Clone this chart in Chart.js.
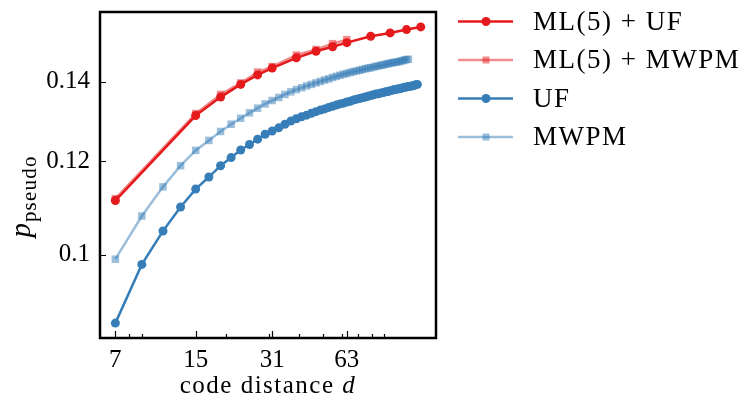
<!DOCTYPE html>
<html>
<head>
<meta charset="utf-8">
<script src="https://cdn.jsdelivr.net/npm/chart.js@4.4.1/dist/chart.umd.min.js"></script>
<style>
  html, body { margin: 0; padding: 0; background: #fff; }
  #wrap { width: 752px; height: 403px; }
</style>
</head>
<body>
<div id="wrap"><canvas id="pseudo-chart"></canvas></div>
<script>
// code distances and pseudo-thresholds
const dMlUf = [7, 15, 19, 23, 27, 31, 39, 47, 55, 63, 79, 95, 111, 127];
const pMlUf = [0.1111, 0.1311, 0.1359, 0.1393, 0.1419, 0.1438, 0.1467, 0.1486, 0.1499, 0.1511, 0.1530, 0.1540, 0.1550, 0.1558];

const dMlMwpm = [7, 15, 19, 23, 27, 31, 39, 47, 55, 63];
const pMlMwpm = [0.1115, 0.1316, 0.1366, 0.1397, 0.1427, 0.1442, 0.1475, 0.1491, 0.1508, 0.1520];

const dUf = [7, 9, 11, 13, 15, 17, 19, 21, 23, 25, 27, 29, 31, 33, 35, 37, 39, 41, 43, 45,
  47, 49, 51, 53, 55, 57, 59, 61, 63, 65, 67, 69, 71, 73, 75, 77, 79, 81, 83, 85,
  87, 89, 91, 93, 95, 97, 99, 101, 103, 105, 107, 109, 111, 113, 115, 117, 119, 121, 123];
const pUf = [0.0875, 0.0981, 0.1047, 0.1097, 0.1136, 0.1163, 0.1189, 0.1208, 0.1226, 0.1239,
  0.1252, 0.1264, 0.1272, 0.1280, 0.1289, 0.1297, 0.1303, 0.1308, 0.1312, 0.1317,
  0.1321, 0.1325, 0.1328, 0.1332, 0.1335, 0.1338, 0.1341, 0.1343, 0.1346, 0.1348,
  0.1351, 0.1353, 0.1355, 0.1357, 0.1359, 0.1361, 0.1363, 0.1365, 0.1367, 0.1368,
  0.1370, 0.1371, 0.1373, 0.1374, 0.1376, 0.1377, 0.1379, 0.1380, 0.1381, 0.1382,
  0.1384, 0.1385, 0.1386, 0.1387, 0.1388, 0.1389, 0.1390, 0.1392, 0.1393];

const dMwpm = [7, 9, 11, 13, 15, 17, 19, 21, 23, 25, 27, 29, 31, 33, 35, 37, 39, 41, 43, 45,
  47, 49, 51, 53, 55, 57, 59, 61, 63, 65, 67, 69, 71, 73, 75, 77, 79, 81, 83, 85,
  87, 89, 91, 93, 95, 97, 99, 101, 103, 105, 107, 109, 111, 113];
const pMwpm = [0.0991, 0.1078, 0.1141, 0.1189, 0.1225, 0.1249, 0.1271, 0.1289, 0.1304, 0.1318,
  0.1330, 0.1341, 0.1350, 0.1358, 0.1366, 0.1373, 0.1379, 0.1384, 0.1389, 0.1393,
  0.1397, 0.1401, 0.1405, 0.1408, 0.1412, 0.1415, 0.1418, 0.1421, 0.1423, 0.1426,
  0.1428, 0.1430, 0.1432, 0.1434, 0.1436, 0.1438, 0.1439, 0.1441, 0.1443, 0.1444,
  0.1446, 0.1447, 0.1449, 0.1450, 0.1452, 0.1453, 0.1454, 0.1455, 0.1456, 0.1458,
  0.1459, 0.1461, 0.1462, 0.1463];

const xTicks = [7, 15, 31, 63];
const xMinorTicks = [8, 9, 20, 30, 40, 50, 60, 70, 80, 90];
const yTicks = [0.1, 0.12, 0.14];
const seriesNames = ["ML(5) + UF", "ML(5) + MWPM", "UF", "MWPM"];

const RED = "#e41a1c";
const RED_LIGHT = "rgba(228, 26, 28, 0.5)";
const BLUE = "#377eb8";
const BLUE_LIGHT = "rgba(55, 126, 184, 0.5)";
const FONT = "'Liberation Serif', 'DejaVu Serif', serif";

Chart.defaults.font.family = FONT;
Chart.defaults.color = "#000";

const toPoints = (xs, ys) => xs.map((x, i) => ({ x: x, y: ys[i] }));

// box + inward ticks, matplotlib style
const frameAndTicks = {
  id: "frameAndTicks",
  afterDatasetsDraw(chart) {
    const { ctx, chartArea: a } = chart;
    const xs = chart.scales.x;
    const ys = chart.scales.y;
    ctx.save();
    ctx.strokeStyle = "#000";
    ctx.lineWidth = 1.2;
    ctx.beginPath();
    xTicks.forEach((v) => {
      const px = Math.round(xs.getPixelForValue(v)) + 0.5;
      ctx.moveTo(px, a.bottom);
      ctx.lineTo(px, a.bottom - 7);
    });
    xMinorTicks.forEach((v) => {
      const px = Math.round(xs.getPixelForValue(v)) + 0.5;
      ctx.moveTo(px, a.bottom);
      ctx.lineTo(px, a.bottom - 4);
    });
    yTicks.forEach((v) => {
      const py = Math.round(ys.getPixelForValue(v)) + 0.5;
      ctx.moveTo(a.left, py);
      ctx.lineTo(a.left + 6, py);
    });
    ctx.stroke();
    ctx.lineWidth = 2.5;
    ctx.strokeRect(a.left, a.top, a.right - a.left, a.bottom - a.top);
    ctx.restore();
  },
};

// axis titles with italic math parts
const axisTitles = {
  id: "axisTitles",
  afterDraw(chart) {
    const { ctx, chartArea: a } = chart;
    ctx.save();
    ctx.fillStyle = "#000";
    ctx.textBaseline = "alphabetic";
    ctx.letterSpacing = "1.5px";
    // x title: code distance d
    const t1 = "code distance ";
    ctx.font = "italic 25px " + FONT;
    const wd = ctx.measureText("d").width;
    ctx.font = "25px " + FONT;
    const w1 = ctx.measureText(t1).width;
    const cx = (a.left + a.right) / 2;
    const x0 = cx - (w1 + wd) / 2;
    ctx.fillText(t1, x0, 393);
    ctx.font = "italic 25px " + FONT;
    ctx.fillText("d", x0 + w1, 393);

    // y title: p_pseudo
    ctx.translate(30, 197);
    ctx.rotate(-Math.PI / 2);
    ctx.letterSpacing = "0px";
    ctx.font = "italic 29px " + FONT;
    const wp = ctx.measureText("p").width;
    ctx.letterSpacing = "1.2px";
    ctx.font = "21px " + FONT;
    const ws = ctx.measureText("pseudo").width;
    const sx = -(wp + ws) / 2;
    ctx.letterSpacing = "0px";
    ctx.font = "italic 29px " + FONT;
    ctx.fillText("p", sx, 0);
    ctx.letterSpacing = "1.2px";
    ctx.font = "21px " + FONT;
    ctx.fillText("pseudo", sx + wp + 1, 6);
    ctx.restore();
  },
};

// legend outside the axes, on the right
const sideLegend = {
  id: "sideLegend",
  afterDraw(chart) {
    const { ctx } = chart;
    ctx.save();
    chart.data.datasets.forEach((ds, i) => {
      const y = 21.5 + i * 38.5;
      ctx.strokeStyle = ds.borderColor;
      ctx.lineWidth = 2.5;
      ctx.beginPath();
      ctx.moveTo(458, y);
      ctx.lineTo(513, y);
      ctx.stroke();
      ctx.fillStyle = ds.backgroundColor;
      if (ds.pointStyle === "rect") {
        ctx.fillRect(486 - 3.5, y - 3.5, 7, 7);
      } else {
        ctx.beginPath();
        ctx.arc(486, y, 4.5, 0, Math.PI * 2);
        ctx.fill();
      }
      ctx.fillStyle = "#000";
      ctx.font = "27px " + FONT;
      ctx.letterSpacing = "1.5px";
      ctx.textBaseline = "middle";
      ctx.fillText(ds.label, 533, y + 1);
    });
    ctx.restore();
  },
};

const ctxPseudo = document.querySelector("#pseudo-chart").getContext("2d");

const pseudoChart = new Chart(ctxPseudo, {
  type: "line",
  data: {
    datasets: [
      {
        label: seriesNames[0],
        data: toPoints(dMlUf, pMlUf),
        borderColor: RED,
        backgroundColor: RED,
        borderWidth: 2.5,
        pointStyle: "circle",
        pointRadius: 4.5,
        pointBorderWidth: 0,
      },
      {
        label: seriesNames[1],
        data: toPoints(dMlMwpm, pMlMwpm),
        borderColor: RED_LIGHT,
        backgroundColor: RED_LIGHT,
        borderWidth: 2.5,
        pointStyle: "rect",
        pointRadius: 5.3,
        pointBorderWidth: 0,
      },
      {
        label: seriesNames[2],
        data: toPoints(dUf, pUf),
        borderColor: BLUE,
        backgroundColor: BLUE,
        borderWidth: 2.5,
        pointStyle: "circle",
        pointRadius: 4.5,
        pointBorderWidth: 0,
      },
      {
        label: seriesNames[3],
        data: toPoints(dMwpm, pMwpm),
        borderColor: BLUE_LIGHT,
        backgroundColor: BLUE_LIGHT,
        borderWidth: 2.5,
        pointStyle: "rect",
        pointRadius: 5.3,
        pointBorderWidth: 0,
      },
    ],
  },
  options: {
    responsive: true,
    maintainAspectRatio: false,
    devicePixelRatio: 1,
    animation: false,
    layout: { padding: { top: 12, right: 316, left: 0, bottom: 0 } },
    plugins: { legend: { display: false }, tooltip: { enabled: false } },
    elements: { line: { tension: 0 } },
    scales: {
      x: {
        type: "logarithmic",
        min: 6.05,
        max: 146.8,
        grid: { display: false, drawTicks: false },
        border: { display: false },
        ticks: {
          font: { size: 25 },
          padding: 7,
          maxRotation: 0,
          callback: (v) => String(v),
        },
        afterBuildTicks: (scale) => {
          scale.ticks = xTicks.map((v) => ({ value: v }));
        },
        afterFit: (scale) => {
          scale.height = 65;
          scale.paddingLeft = 0;
          scale.paddingRight = 0;
        },
      },
      y: {
        type: "logarithmic",
        min: 0.085,
        max: 0.1604,
        grid: { display: false, drawTicks: false },
        border: { display: false },
        ticks: {
          font: { size: 25 },
          padding: 10,
          callback: (v) => String(v),
        },
        afterBuildTicks: (scale) => {
          scale.ticks = yTicks.map((v) => ({ value: v }));
        },
        afterFit: (scale) => {
          scale.width = 100;
          scale.paddingTop = 0;
          scale.paddingBottom = 0;
        },
      },
    },
  },
  plugins: [frameAndTicks, axisTitles, sideLegend],
});
</script>
</body>
</html>
